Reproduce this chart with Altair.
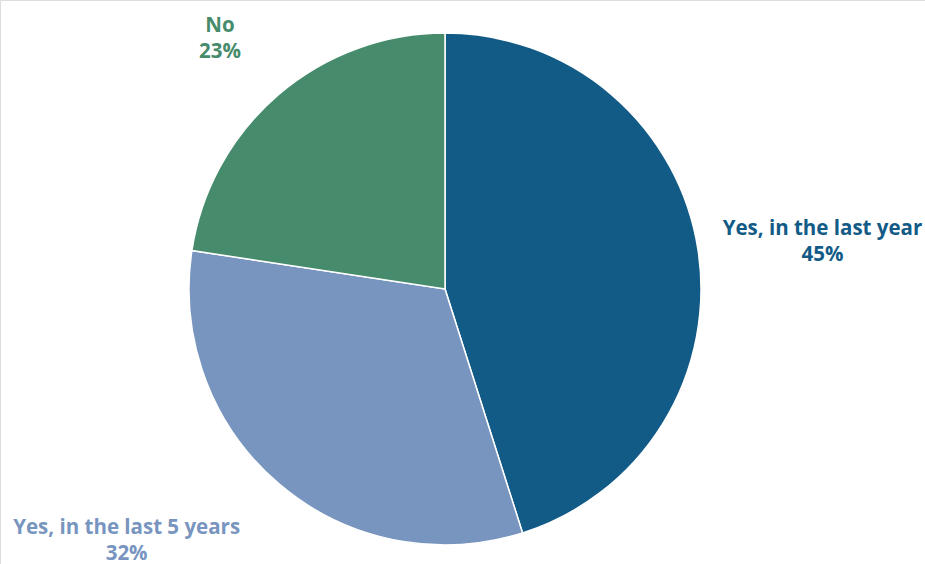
import altair as alt
import pandas as pd

categories = ["Yes, in the last year", "Yes, in the last 5 years", "No"]
values = [45.1, 32.3, 22.6]          # slice sizes
label_pct = [45, 32, 23]             # printed (rounded) percentages
colors = ["#135b87", "#7895bf", "#468c6c"]
order = [1, 2, 3]

df = pd.DataFrame({
    "category": categories,
    "value": values,
    "order": order,
    "label": [f"{c}\n{v}%" for c, v in zip(categories, label_pct)],
})

cx, cy = 445, 289
color_scale = alt.Scale(domain=categories, range=colors)

base = alt.Chart(df).encode(
    theta=alt.Theta("value:Q", stack=True),
    order=alt.Order("order:Q"),
    x=alt.value(cx),
    y=alt.value(cy),
)

pie = base.mark_arc(outerRadius=256, stroke="white", strokeWidth=1.5).encode(
    color=alt.Color("category:N", scale=color_scale, legend=None)
)

# label placement style (radius, dx, dy) per category
label_style = {
    "Yes, in the last year": dict(radius=382, dx=0, dy=-1),
    "Yes, in the last 5 years": dict(radius=327, dx=-106, dy=-10),
    "No": dict(radius=336, dx=-6, dy=-8),
}

final_layers = [pie]
for cat in categories:
    st = label_style[cat]
    t = base.mark_text(
        radius=st["radius"], dx=st["dx"], dy=st["dy"],
        font="Open Sans", fontSize=20.5, fontWeight="bold",
        lineBreak="\n", align="center", baseline="middle", lineHeight=26,
    ).encode(
        text="label:N",
        color=alt.Color("category:N", scale=color_scale, legend=None),
        opacity=alt.condition(alt.datum.category == cat, alt.value(1), alt.value(0)),
    )
    final_layers.append(t)

chart = alt.layer(*final_layers).properties(
    width=925, height=564, padding=0, autosize=alt.AutoSizeParams(type="none")
).configure_view(stroke=None).configure(background="white")

chart.save("out.html", embed_options={"renderer": "svg", "actions": False})
